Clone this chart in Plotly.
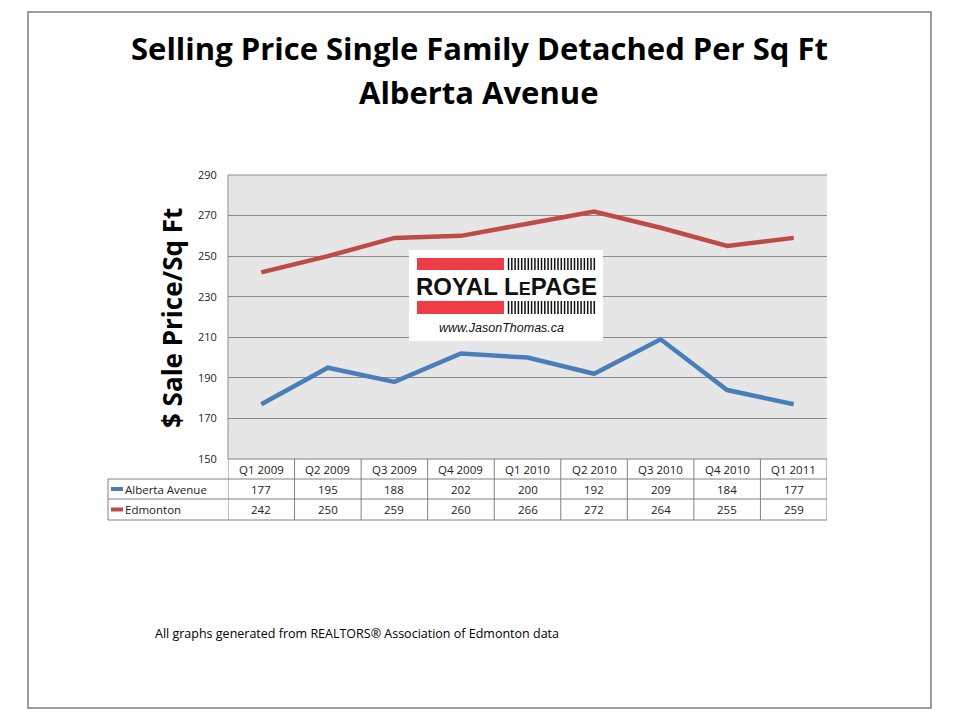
import plotly.graph_objects as go

categories = ["Q1 2009", "Q2 2009", "Q3 2009", "Q4 2009", "Q1 2010",
              "Q2 2010", "Q3 2010", "Q4 2010", "Q1 2011"]
alberta = [177, 195, 188, 202, 200, 192, 209, 184, 177]
edmonton = [242, 250, 259, 260, 266, 272, 264, 255, 259]
series_names = ["Alberta Avenue", "Edmonton"]
y_ticks = [150, 170, 190, 210, 230, 250, 270, 290]

BLUE = "#4a7ebb"
RED = "#be4b48"
W, H = 960, 720
OFF = 8  # page body margin
L, R, T, B = 228 - OFF, 827 - OFF, 175 - OFF, 459 - OFF


def px(x):
    return (x - OFF - L) / (R - L)


def py(y):
    return (B - (y - OFF)) / (B - T)


fig = go.Figure()
for name, vals, col in [(series_names[0], alberta, BLUE), (series_names[1], edmonton, RED)]:
    fig.add_trace(go.Scatter(x=list(range(len(categories))), y=vals, mode="lines",
                             name=name, line=dict(color=col, width=4.5),
                             showlegend=False))

shapes = []
ann = []
GRID = "#8c8c8c"
TBL = "#808080"

# outer border
shapes.append(dict(type="rect", xref="paper", yref="paper", x0=px(28), x1=px(931),
                   y0=py(708), y1=py(12), line=dict(color="#7f7f7f", width=1.5)))
# plot area border (top / left)
shapes.append(dict(type="line", xref="paper", yref="paper", x0=0, x1=1, y0=1, y1=1,
                   line=dict(color=GRID, width=1)))
shapes.append(dict(type="line", xref="paper", yref="paper", x0=0, x1=0, y0=0, y1=1,
                   line=dict(color=GRID, width=1)))

# data table
row_y = [0, py(479), py(499), py(520)]
for i, yv in enumerate(row_y):
    x0 = 0 if i == 0 else px(108)
    shapes.append(dict(type="line", xref="paper", yref="paper", x0=x0, x1=1, y0=yv, y1=yv,
                       line=dict(color=TBL, width=1)))
shapes.append(dict(type="line", xref="paper", yref="paper", x0=px(108), x1=px(108),
                   y0=row_y[3], y1=row_y[1], line=dict(color=TBL, width=1)))
for k in range(len(categories) + 1):
    shapes.append(dict(type="line", xref="x", yref="paper", x0=k - 0.5, x1=k - 0.5,
                       y0=row_y[3], y1=0, line=dict(color=TBL, width=1)))

FONT = "Open Sans"
TF = dict(family=FONT, size=11.5, color="#222")
for k, c in enumerate(categories):
    for (ya, yb), txt in [((row_y[0], row_y[1]), c),
                          ((row_y[1], row_y[2]), str(alberta[k])),
                          ((row_y[2], row_y[3]), str(edmonton[k]))]:
        ann.append(dict(x=k, y=(ya + yb) / 2, xref="x", yref="paper", text=txt,
                        xanchor="center", yanchor="middle", showarrow=False, font=TF))

for i, (name, col) in enumerate([(series_names[0], BLUE), (series_names[1], RED)]):
    yc = (row_y[i + 1] + row_y[i + 2]) / 2
    shapes.append(dict(type="line", xref="paper", yref="paper", x0=px(111), x1=px(123),
                       y0=yc, y1=yc, line=dict(color=col, width=4)))
    ann.append(dict(x=px(123), y=yc, xref="paper", yref="paper", text=name, xanchor="left",
                    yanchor="middle", showarrow=False, font=TF))

# title
for txt, yy in [("<b>Selling Price Single Family Detached Per Sq Ft</b>", 48),
                ("<b>Alberta Avenue</b>", 92)]:
    ann.append(dict(x=px(479), y=py(yy), xref="paper", yref="paper", text=txt,
                    xanchor="center", yanchor="middle", showarrow=False,
                    font=dict(family="Open Sans", size=31, color="#000")))
# y axis title
ann.append(dict(x=px(172), y=py(318), xref="paper", yref="paper", textangle=-90,
                xanchor="center", yanchor="middle",
                text="<b>$ Sale Price/Sq Ft</b>", showarrow=False,
                font=dict(family="Open Sans", size=26, color="#000")))
# footer
ann.append(dict(x=px(153), y=py(633), xref="paper", yref="paper", xanchor="left",
                yanchor="middle",
                text="All graphs generated from REALTORS® Association of Edmonton data",
                showarrow=False, font=dict(family="Open Sans", size=12.5, color="#000")))

# logo
shapes.append(dict(type="rect", xref="paper", yref="paper", x0=px(409), x1=px(603),
                   y0=py(341), y1=py(250), fillcolor="white", line=dict(width=0), layer="above"))
for (ya, yb) in [(258, 270), (301, 314)]:
    shapes.append(dict(type="rect", xref="paper", yref="paper", x0=px(417), x1=px(504),
                       y0=py(yb), y1=py(ya), fillcolor="#ee3b45", line=dict(width=0)))
    xb = 508.5
    while xb < 597:
        shapes.append(dict(type="line", xref="paper", yref="paper", x0=px(xb), x1=px(xb),
                           y0=py(yb), y1=py(ya), line=dict(color="#111", width=1.5)))
        xb += 3.3
ann.append(dict(x=px(506), y=py(286), xref="paper", yref="paper", xanchor="center",
                yanchor="middle",
                text="<b>ROYAL L<span style='font-size:18px'>E</span>PAGE</b>", showarrow=False,
                font=dict(family="Liberation Sans", size=24, color="#111")))
ann.append(dict(x=px(501), y=py(328), xref="paper", yref="paper", xanchor="center",
                yanchor="middle",
                text="<i>www.JasonThomas.ca</i>", showarrow=False,
                font=dict(family="Liberation Sans", size=12.5, color="#111")))

fig.update_layout(
    width=W, height=H,
    margin=dict(l=L, r=W - R, t=T, b=H - B),
    paper_bgcolor="white", plot_bgcolor="#e6e6e6",
    shapes=shapes, annotations=ann,
    xaxis=dict(range=[-0.5, len(categories) - 0.5], showticklabels=False, showgrid=False,
               zeroline=False, fixedrange=True),
    yaxis=dict(range=[150, 290], tickvals=y_ticks, showgrid=True, gridcolor=GRID, gridwidth=1,
               zeroline=False, tickfont=dict(family=FONT, size=11, color="#222"),
               ticks="outside", ticklen=8, tickcolor="rgba(0,0,0,0)"),
    showlegend=False,
)

fig.write_html("out.html")
